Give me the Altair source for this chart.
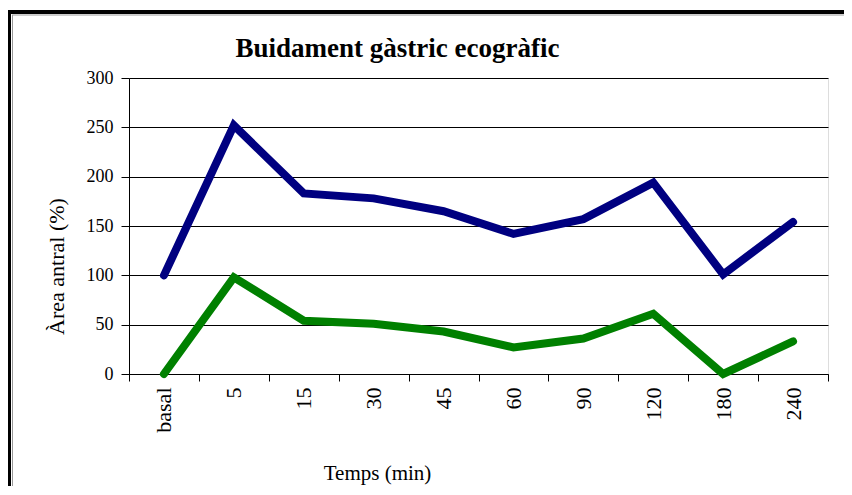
import altair as alt
import pandas as pd

categories = ["basal", "5", "15", "30", "45", "60", "90", "120", "180", "240"]
serie_1 = [100, 252, 183, 178, 165, 142, 157, 194, 101, 154]
serie_2 = [0, 98, 54, 51, 43, 27, 36, 61, 0, 33]
series_names = ["Sèrie 1", "Sèrie 2"]
series_colors = ["#000080", "#008000"]
y_ticks = [0, 50, 100, 150, 200, 250, 300]

rows = []
for name, vals in zip(series_names, [serie_1, serie_2]):
    for c, v in zip(categories, vals):
        rows.append({"temps": c, "valor": v, "serie": name})
df = pd.DataFrame(rows)

SERIF = "Liberation Serif"

lines = alt.Chart(df).mark_line(strokeWidth=8, strokeCap="round").encode(
    x=alt.X(
        "temps:N",
        sort=categories,
        scale=alt.Scale(paddingInner=0, paddingOuter=0),
        axis=alt.Axis(
            title="Temps (min)",
            titleFont=SERIF,
            titleFontSize=21,
            titleFontWeight="normal",
            titleColor="black",
            titleX=248,
            titleY=105,
            titleBaseline="alphabetic",
            titleAnchor="middle",
            labelAngle=-90,
            labelAlign="right",
            labelBaseline="middle",
            labelFont=SERIF,
            labelFontSize=22,
            labelColor="black",
            labelPadding=6,
            tickSize=7,
            tickColor="black",
            tickBand="extent",
            domainColor="black",
            grid=False,
        ),
    ),
    y=alt.Y(
        "valor:Q",
        scale=alt.Scale(domain=[0, 300], nice=False),
        axis=alt.Axis(
            values=y_ticks,
            title="Àrea antral (%)",
            titleFont=SERIF,
            titleFontSize=22,
            titleFontWeight="normal",
            titleColor="black",
            titleAngle=-90,
            titleX=-66,
            titleY=188,
            titleBaseline="alphabetic",
            titleAlign="center",
            labelFont=SERIF,
            labelFontSize=18,
            labelColor="black",
            labelPadding=8,
            tickSize=8,
            tickColor="black",
            domainColor="black",
            grid=True,
            gridColor="black",
            gridOpacity=1,
            gridWidth=1,
        ),
    ),
    color=alt.Color(
        "serie:N",
        scale=alt.Scale(domain=series_names, range=series_colors),
        legend=None,
    ),
    detail="serie:N",
)

frame_df = pd.DataFrame({"k": [0]})
frame_top = alt.Chart(frame_df).mark_rule(color="black", strokeWidth=4).encode(
    x=alt.value(-122), x2=alt.value(740), y=alt.value(-66), y2=alt.value(-66)
)
frame_top_in = alt.Chart(frame_df).mark_rule(color="#999999", strokeWidth=1).encode(
    x=alt.value(-117), x2=alt.value(740), y=alt.value(-63), y2=alt.value(-63)
)
frame_left = alt.Chart(frame_df).mark_rule(color="black", strokeWidth=4).encode(
    x=alt.value(-120), x2=alt.value(-120), y=alt.value(-68), y2=alt.value(440)
)
frame_left_in = alt.Chart(frame_df).mark_rule(color="#999999", strokeWidth=1).encode(
    x=alt.value(-116.5), x2=alt.value(-116.5), y=alt.value(-63), y2=alt.value(440)
)

chart = alt.layer(frame_top, frame_top_in, frame_left, frame_left_in, lines).properties(
    width=699,
    height=296,
    autosize="none",
    padding={"left": 121, "top": 70, "right": 16, "bottom": 112},
    title=alt.TitleParams(
        text="Buidament gàstric ecogràfic",
        font=SERIF,
        fontSize=27,
        fontWeight="bold",
        color="black",
        anchor="middle",
        dx=-81,
        dy=71,
        offset=16,
    ),
).configure_view(stroke=None).configure(background="white")

chart.save("out.html", embed_options={"renderer": "svg", "actions": False})
